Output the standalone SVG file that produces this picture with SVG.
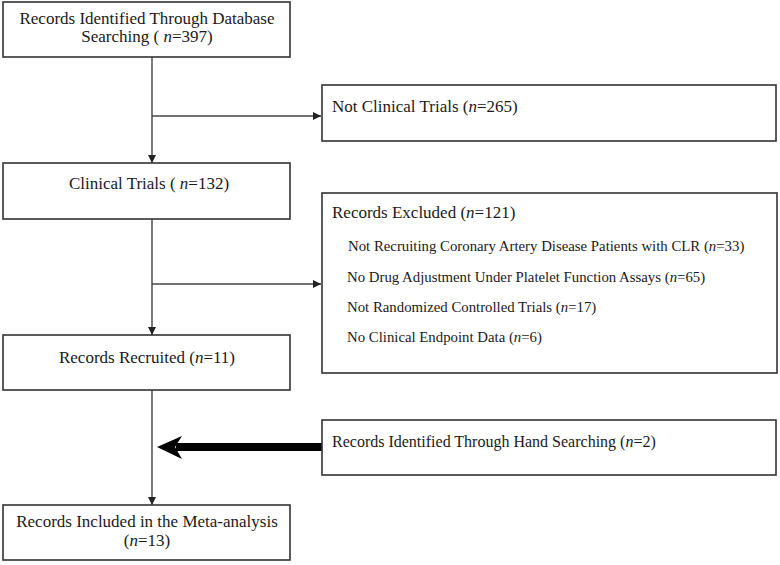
<svg xmlns="http://www.w3.org/2000/svg" width="780" height="565" viewBox="0 0 780 565">
<defs>
<style>
.box{fill:#fff;stroke:#333;stroke-width:1.6}
.t{font-family:"Liberation Serif","Times New Roman",serif;font-size:17px;fill:#1a1a1a}
.h{font-size:16px}
.s{font-family:"Liberation Serif","Times New Roman",serif;font-size:14.8px;fill:#1a1a1a}
.c{text-anchor:middle}
.ln{stroke:#444;stroke-width:1.4;fill:none}
</style>
<marker id="ah" viewBox="0 0 10 10" refX="10" refY="5" markerWidth="8" markerHeight="8" markerUnits="userSpaceOnUse" orient="auto">
<path d="M0,0 L10,5 L0,10 Z" fill="#222"/>
</marker>
</defs>
<rect width="780" height="565" fill="#fff"/>
<g id="connectors">
<line class="ln" x1="152" y1="57" x2="152" y2="163" marker-end="url(#ah)"/>
<line class="ln" x1="152" y1="116" x2="321" y2="116" marker-end="url(#ah)"/>
<line class="ln" x1="152" y1="219" x2="152" y2="335" marker-end="url(#ah)"/>
<line class="ln" x1="152" y1="284" x2="321" y2="284" marker-end="url(#ah)"/>
<line class="ln" x1="152" y1="390" x2="152" y2="505" marker-end="url(#ah)"/>
<rect x="176" y="443" width="146" height="8" fill="#000"/>
<path d="M157,447 L182,436 L175,447 L182,459 Z" fill="#000"/>
</g>
<g id="n1">
<rect class="box" x="3" y="2" width="287" height="55"/>
<text class="t c" x="147" y="24">Records Identified Through Database</text>
<text class="t c" x="147" y="42">Searching ( <tspan font-style="italic">n</tspan>=397)</text>
</g>
<g id="n2">
<rect class="box" x="322" y="85" width="454" height="56"/>
<text class="t" x="332" y="112">Not Clinical Trials (<tspan font-style="italic">n</tspan>=265)</text>
</g>
<g id="n3">
<rect class="box" x="3" y="163" width="287" height="56"/>
<text class="t c" x="149" y="189">Clinical Trials ( <tspan font-style="italic">n</tspan>=132)</text>
</g>
<g id="n4">
<rect class="box" x="322" y="193" width="455" height="180"/>
<text class="t" x="332" y="218">Records Excluded (<tspan font-style="italic">n</tspan>=121)</text>
<text class="s" x="348" y="251">Not Recruiting Coronary Artery Disease Patients with CLR (<tspan font-style="italic">n</tspan>=33)</text>
<text class="s" x="347" y="282">No Drug Adjustment Under Platelet Function Assays (<tspan font-style="italic">n</tspan>=65)</text>
<text class="s" x="347" y="312">Not Randomized Controlled Trials (<tspan font-style="italic">n</tspan>=17)</text>
<text class="s" x="347" y="342">No Clinical Endpoint Data (<tspan font-style="italic">n</tspan>=6)</text>
</g>
<g id="n5">
<rect class="box" x="3" y="335" width="287" height="55"/>
<text class="t c" x="147" y="363">Records Recruited (<tspan font-style="italic">n</tspan>=11)</text>
</g>
<g id="n6">
<rect class="box" x="322" y="420" width="454" height="55"/>
<text class="t h" x="332" y="447">Records Identified Through Hand Searching (<tspan font-style="italic">n</tspan>=2)</text>
</g>
<g id="n7">
<rect class="box" x="3" y="505" width="287" height="55"/>
<text class="t c" x="147" y="527">Records Included in the Meta-analysis</text>
<text class="t c" x="147" y="546">(<tspan font-style="italic">n</tspan>=13)</text>
</g>
</svg>
